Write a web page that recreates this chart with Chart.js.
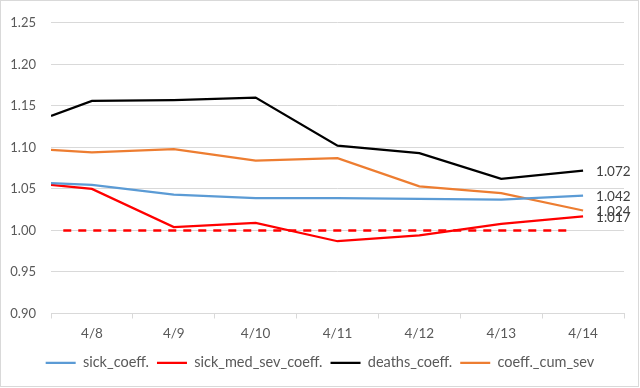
<!DOCTYPE html>
<html>
<head>
<meta charset="utf-8">
<script src="https://cdn.jsdelivr.net/npm/chart.js@4"></script>
<style>
  html, body { margin: 0; padding: 0; background: #fff; }
  #wrap { width: 640px; height: 388px; }
</style>
</head>
<body>
<div id="wrap"><canvas id="chart" width="640" height="388"></canvas></div>
<script>
// --- data ---
var categories = ['4/8', '4/9', '4/10', '4/11', '4/12', '4/13', '4/14'];
var catDays    = [8, 9, 10, 11, 12, 13, 14];
// first point sits on the left edge of the plot (half a category before 4/8)
var pointX     = [7.5, 8, 9, 10, 11, 12, 13, 14];

var sickCoeff     = [1.057, 1.055, 1.043, 1.039, 1.039, 1.038, 1.037, 1.042];
var sickMedSev    = [1.055, 1.050, 1.004, 1.009, 0.987, 0.994, 1.008, 1.017];
var deathsCoeff   = [1.138, 1.156, 1.157, 1.160, 1.102, 1.093, 1.062, 1.072];
var coeffCumSev   = [1.097, 1.094, 1.098, 1.084, 1.087, 1.053, 1.045, 1.024];

// dashed reference line at 1.00
var refX = [7.65, 13.85];
var refY = [1.00, 1.00];

var yTicks = [0.90, 0.95, 1.00, 1.05, 1.10, 1.15, 1.20, 1.25];

var FONT = 'Lato, "Open Sans", sans-serif';
var TXT  = '#595959';
var GRID = '#D9D9D9';

function pts(xs, ys) {
    return xs.map(function (x, i) { return { x: x, y: ys[i] }; });
}

function line(label, xs, ys, color, extra) {
    var ds = {
        label: label,
        data: pts(xs, ys),
        borderColor: color,
        backgroundColor: color,
        borderWidth: 2.25,
        pointRadius: 0,
        tension: 0,
        fill: false,
        endLabel: true
    };
    for (var k in extra) ds[k] = extra[k];
    return ds;
}

// value labels to the right of each line's last point
var endLabels = {
    id: 'endLabels',
    afterDatasetsDraw: function (chart) {
        var c = chart.ctx;
        c.save();
        c.font = '13.5px ' + FONT;
        c.fillStyle = '#404040';
        c.textAlign = 'left';
        c.textBaseline = 'middle';
        chart.data.datasets.forEach(function (ds, i) {
            if (!ds.endLabel) return;
            var meta = chart.getDatasetMeta(i);
            var last = meta.data[meta.data.length - 1];
            var v = ds.data[ds.data.length - 1].y;
            c.fillText(v.toFixed(3), last.x + 13, last.y + 1);
        });
        c.restore();
    }
};

// light frame round the whole chart
var frame = {
    id: 'frame',
    beforeDraw: function (chart) {
        var c = chart.ctx;
        c.save();
        c.fillStyle = '#fff';
        c.fillRect(0, 0, chart.width, chart.height);
        c.strokeStyle = GRID;
        c.lineWidth = 1;
        c.strokeRect(0.5, 0.5, chart.width - 2, chart.height - 2);
        c.restore();
    }
};

new Chart(document.getElementById('chart'), {
    type: 'line',
    data: {
        datasets: [
            line('sick_coeff.',         pointX, sickCoeff,   '#5B9BD5'),
            line('sick_med_sev_coeff.', pointX, sickMedSev,  '#FF0000'),
            line('deaths_coeff.',       pointX, deathsCoeff, '#000000'),
            line('coeff._cum_sev',      pointX, coeffCumSev, '#ED7D31'),
            line('ref', refX, refY, '#FF0000', { borderDash: [8, 7], borderWidth: 2.5, endLabel: false })
        ]
    },
    options: {
        responsive: false,
        animation: false,
        devicePixelRatio: 1,
        layout: { padding: { left: 0, right: 0, top: 17, bottom: 8 } },
        plugins: {
            tooltip: { enabled: false },
            legend: {
                position: 'bottom',
                labels: {
                    usePointStyle: true,
                    pointStyle: 'line',
                    pointStyleWidth: 30,
                    padding: 8,
                    color: TXT,
                    font: { size: 14.5, family: FONT },
                    filter: function (item) { return item.text !== 'ref'; }
                }
            }
        },
        scales: {
            x: {
                type: 'linear',
                min: 7.5,
                max: 14.5,
                afterBuildTicks: function (scale) {
                    var t = [];
                    for (var v = 7.5; v <= 14.5; v += 0.5) t.push({ value: v });
                    scale.ticks = t;
                },
                afterFit: function (scale) { scale.height = 34; },
                grid: {
                    drawOnChartArea: false,
                    drawTicks: true,
                    tickLength: 5,
                    color: function (ctx) {
                        return ctx.tick && Number.isInteger(ctx.tick.value) ? 'rgba(0,0,0,0)' : GRID;
                    }
                },
                border: { display: true, color: GRID },
                ticks: {
                    autoSkip: false,
                    maxRotation: 0,
                    padding: 7,
                    color: TXT,
                    font: { size: 13.5, family: FONT },
                    callback: function (v) {
                        var i = catDays.indexOf(v);
                        return i >= 0 ? categories[i] : '';
                    }
                }
            },
            y: {
                min: 0.90,
                max: 1.25,
                afterBuildTicks: function (scale) {
                    scale.ticks = yTicks.map(function (v) { return { value: v }; });
                },
                afterFit: function (scale) { scale.width = 51; },
                grid: { color: GRID, drawTicks: false },
                border: { display: false },
                ticks: {
                    padding: 15,
                    color: TXT,
                    font: { size: 13, family: FONT },
                    callback: function (v) { return v.toFixed(2); }
                }
            },
            // empty right-hand strip so the plot stops short of the frame
            yRight: {
                position: 'right',
                min: 0.90,
                max: 1.25,
                afterFit: function (scale) { scale.width = 16; },
                grid: { drawOnChartArea: false, drawTicks: false },
                border: { display: false },
                ticks: { display: false }
            }
        }
    },
    plugins: [frame, endLabels]
});
</script>
</body>
</html>
